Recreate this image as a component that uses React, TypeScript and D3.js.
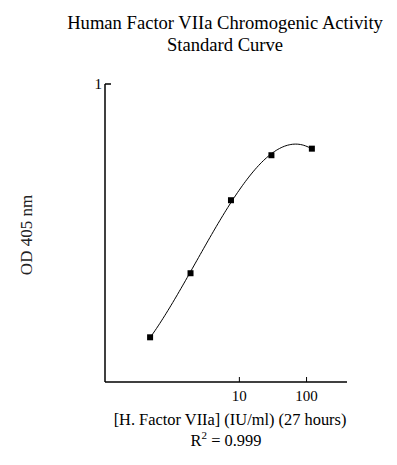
import React, { useEffect, useRef } from 'react';
import * as d3 from 'd3';

// standard curve points (IU/ml vs OD 405)
const concentrations = [0.469, 1.875, 7.5, 30, 120];
const odValues = [0.15, 0.365, 0.61, 0.761, 0.783];
const xTicks = [10, 100];
const yTicks = [1];

const titleLines = ['Human Factor VIIa Chromogenic Activity', 'Standard Curve'];
const xLabel = '[H. Factor VIIa] (IU/ml) (27 hours)';
const yLabel = 'OD 405 nm';

// least squares polynomial fit of y on log10(x)
function polyFit(us: number[], ys: number[], degree: number) {
  const n = degree + 1;
  const A: number[][] = Array.from({ length: n }, () => new Array(n + 1).fill(0));
  us.forEach((u, k) => {
    for (let i = 0; i < n; i++) {
      for (let j = 0; j < n; j++) A[i][j] += Math.pow(u, i + j);
      A[i][n] += ys[k] * Math.pow(u, i);
    }
  });
  for (let c = 0; c < n; c++) {
    let p = c;
    for (let r = c + 1; r < n; r++) if (Math.abs(A[r][c]) > Math.abs(A[p][c])) p = r;
    [A[c], A[p]] = [A[p], A[c]];
    for (let r = 0; r < n; r++) {
      if (r === c) continue;
      const f = A[r][c] / A[c][c];
      for (let k = c; k <= n; k++) A[r][k] -= f * A[c][k];
    }
  }
  return A.map((row, i) => row[n] / row[i]);
}

export default function App() {
  const svgRef = useRef<SVGSVGElement>(null);

  useEffect(() => {
    if (!svgRef.current) return;
    const width = 397;
    const height = 465;
    const margin = { top: 84, right: 50, bottom: 83, left: 105 };

    const svg = d3.select(svgRef.current);
    svg.selectAll('*').remove();

    const font = '"Liberation Serif", "Times New Roman", serif';

    const x = d3.scaleLog()
      .domain([0.1, 400])
      .range([margin.left, width - margin.right]);

    const y = d3.scaleLinear()
      .domain([0, 1])
      .range([height - margin.bottom, margin.top]);

    // title
    svg.append('g')
      .selectAll('text')
      .data(titleLines)
      .enter()
      .append('text')
      .attr('x', 225)
      .attr('y', (_, i) => 29 + i * 22)
      .attr('text-anchor', 'middle')
      .style('font-family', font)
      .style('font-size', '18.6px')
      .attr('fill', '#000')
      .text(d => d);

    // axes
    const axisColor = '#000';
    svg.append('line')
      .attr('x1', margin.left).attr('x2', width - margin.right)
      .attr('y1', y(0)).attr('y2', y(0))
      .attr('stroke', axisColor).attr('stroke-width', 1.5);
    svg.append('line')
      .attr('x1', margin.left).attr('x2', margin.left)
      .attr('y1', y(0)).attr('y2', y(1))
      .attr('stroke', axisColor).attr('stroke-width', 1.5);

    xTicks.forEach(t => {
      svg.append('line')
        .attr('x1', x(t)).attr('x2', x(t))
        .attr('y1', y(0)).attr('y2', y(0) - 5)
        .attr('stroke', axisColor);
      svg.append('text')
        .attr('x', x(t))
        .attr('y', y(0) + 19)
        .attr('text-anchor', 'middle')
        .style('font-family', font)
        .style('font-size', '15px')
        .text(String(t));
    });

    yTicks.forEach(t => {
      svg.append('line')
        .attr('x1', margin.left).attr('x2', margin.left + 6)
        .attr('y1', y(t)).attr('y2', y(t))
        .attr('stroke', axisColor).attr('stroke-width', 1.5);
      svg.append('text')
        .attr('x', margin.left - 3)
        .attr('y', y(t) + 5)
        .attr('text-anchor', 'end')
        .style('font-family', font)
        .style('font-size', '15px')
        .text(String(t));
    });

    // axis labels
    svg.append('text')
      .attr('x', 230)
      .attr('y', 425)
      .attr('text-anchor', 'middle')
      .style('font-family', font)
      .style('font-size', '16.4px')
      .text(xLabel);

    const r2 = svg.append('text')
      .attr('x', 226)
      .attr('y', 446)
      .attr('text-anchor', 'middle')
      .style('font-family', font)
      .style('font-size', '16.4px');
    r2.append('tspan').text('R');
    r2.append('tspan').attr('dy', -7).style('font-size', '11px').text('2');
    r2.append('tspan').attr('dy', 7).text(' = 0.999');

    svg.append('text')
      .attr('transform', `translate(32,235) rotate(-90)`)
      .attr('text-anchor', 'middle')
      .style('font-family', font)
      .style('font-size', '17px')
      .attr('fill', '#222')
      .text(yLabel);

    // fitted curve (cubic in log concentration)
    const us = concentrations.map(c => Math.log10(c));
    const coef = polyFit(us, odValues, 3);
    const [u0, u1] = d3.extent(us) as [number, number];
    const fit: [number, number][] = d3.range(0, 101).map(i => {
      const u = u0 + (u1 - u0) * i / 100;
      const v = coef.reduce((s, c, k) => s + c * Math.pow(u, k), 0);
      return [Math.pow(10, u), v];
    });

    const line = d3.line<[number, number]>()
      .x(d => x(d[0]))
      .y(d => y(d[1]));

    svg.append('path')
      .datum(fit)
      .attr('d', line)
      .attr('fill', 'none')
      .attr('stroke', '#000')
      .attr('stroke-width', 1);

    const pts: [number, number][] = concentrations.map((c, i) => [c, odValues[i]]);
    svg.selectAll('.pt')
      .data(pts)
      .enter()
      .append('rect')
      .attr('class', 'pt')
      .attr('x', d => x(d[0]) - 3)
      .attr('y', d => y(d[1]) - 3)
      .attr('width', 6)
      .attr('height', 6)
      .attr('fill', '#000');
  }, []);

  return (
    <div style={{ position: 'fixed', left: 0, top: 0, width: 397, height: 465, background: '#fff' }}>
      <svg ref={svgRef} width={397} height={465} />
    </div>
  );
}
